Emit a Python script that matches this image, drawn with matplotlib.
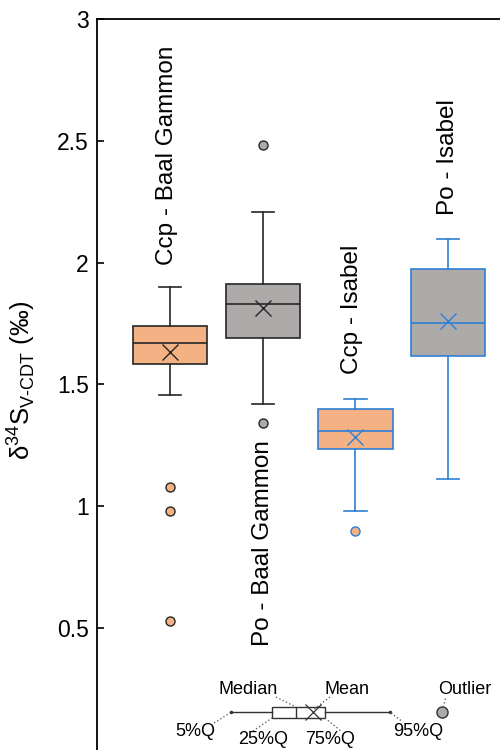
import matplotlib
matplotlib.use("Agg")
from matplotlib import pyplot as plt

plt.rcParams['font.family'] = ['Liberation Sans', 'DejaVu Sans']
plt.rcParams['mathtext.fontset'] = 'custom'
plt.rcParams['mathtext.rm'] = 'Liberation Sans'

# box statistics (whiskers = 5% / 95% quantiles)
labels = ["Ccp - Baal Gammon", "Po - Baal Gammon", "Ccp - Isabel", "Po - Isabel"]
q05 = [1.455, 1.418, 0.982, 1.112]
q25 = [1.585, 1.692, 1.234, 1.616]
medians = [1.670, 1.831, 1.311, 1.753]
q75 = [1.738, 1.914, 1.400, 1.975]
q95 = [1.899, 2.207, 1.440, 2.097]
means = [1.633, 1.815, 1.286, 1.760]
outliers = [[1.081, 0.982, 0.530], [2.482, 1.341], [0.897], []]

fills = ["#F4B183", "#AEAAAA", "#F4B183", "#AEAAAA"]
edges = ["#262626", "#262626", "#2E7FD6", "#2E7FD6"]

fig = plt.figure(figsize=(5, 7.5), dpi=100)
ax = fig.add_axes([0.194, 0.0, 0.886, 0.9747])

for i in range(len(labels)):
    stats = [dict(whislo=q05[i], q1=q25[i], med=medians[i], q3=q75[i],
                  whishi=q95[i], mean=means[i], fliers=outliers[i])]
    ec = edges[i]
    ax.bxp(stats, positions=[i + 1], widths=0.8, capwidths=0.24,
           showmeans=True, patch_artist=True,
           boxprops=dict(facecolor=fills[i], edgecolor=ec, linewidth=1.2),
           medianprops=dict(color=ec, linewidth=1.2),
           whiskerprops=dict(color=ec, linewidth=1.2),
           capprops=dict(color=ec, linewidth=1.2),
           meanprops=dict(marker='x', markeredgecolor=ec, markersize=12,
                          markeredgewidth=1.0),
           flierprops=dict(marker='o', markerfacecolor=fills[i],
                           markeredgecolor=ec, markersize=6.5,
                           markeredgewidth=1.0))

# group names, written vertically next to the boxes
ax.text(0.97, 1.99, labels[0], rotation=90, ha='center', va='bottom', fontsize=17.5)
ax.text(2.0, 1.27, labels[1], rotation=90, ha='center', va='top', fontsize=17.5)
ax.text(2.96, 1.545, labels[2], rotation=90, ha='center', va='bottom', fontsize=17.5)
ax.text(4.0, 2.195, labels[3], rotation=90, ha='center', va='bottom', fontsize=17.5)

ax.set_xlim(0.2134, 4.99)
ax.set_ylim(0, 3)
ax.set_xticks([])
ax.set_yticks([0.5, 1, 1.5, 2, 2.5, 3])
ax.set_yticklabels(["0.5", "1", "1.5", "2", "2.5", "3"])
ax.tick_params(axis='y', direction='in', length=5, width=1.2, labelsize=16.5, pad=6)
for s in ['bottom', 'right']:
    ax.spines[s].set_visible(False)
for s in ['left', 'top']:
    ax.spines[s].set_linewidth(1.3)
ax.set_ylabel(r'δ$^{34}$S$_{\mathrm{V‐CDT}}$ (‰)', fontsize=18.5, labelpad=12)
ax.yaxis.set_label_coords(-0.135, 0.505)

# key schematic at the bottom, drawn in figure pixel space
key = fig.add_axes([0, 0, 1, 1])
key.set_xlim(0, 500)
key.set_ylim(750, 0)
key.axis('off')
key.bxp([dict(whislo=230.7, q1=272.3, med=296, q3=325, whishi=390,
              mean=313, fliers=[442])],
        positions=[712.3], widths=11, capwidths=0, vert=False,
        showmeans=True, patch_artist=True,
        boxprops=dict(facecolor='white', edgecolor='#333333', linewidth=1.0),
        medianprops=dict(color='#333333', linewidth=1.0),
        whiskerprops=dict(color='#333333', linewidth=1.0),
        capprops=dict(color='#333333', linewidth=0),
        meanprops=dict(marker='x', markeredgecolor='#333333', markersize=11,
                       markeredgewidth=0.9),
        flierprops=dict(marker='o', markerfacecolor='#AEAAAA',
                        markeredgecolor='#333333', markersize=8))
key.plot([230.7, 390], [712.3, 712.3], 'o', color='#333333', markersize=1.5)

lead = dict(color='#666666', linestyle=':', linewidth=1.0)
key.plot([214, 230], [723, 713], **lead)
key.plot([276, 296], [697, 707], **lead)
key.plot([330, 313], [697, 710], **lead)
key.plot([253, 272], [731, 718], **lead)
key.plot([325, 341], [718, 731], **lead)
key.plot([391, 403], [713, 722], **lead)
key.plot([443, 446], [707, 697], **lead)

kt = dict(fontsize=13, ha='center', va='center')
key.text(248, 690, "Median", **kt)
key.text(347, 689, "Mean", **kt)
key.text(465, 689, "Outlier", **kt)
key.text(195, 731, "5%Q", **kt)
key.text(263, 739, "25%Q", **kt)
key.text(330, 739, "75%Q", **kt)
key.text(418, 731, "95%Q", **kt)

fig.savefig("out.png", dpi=100)
